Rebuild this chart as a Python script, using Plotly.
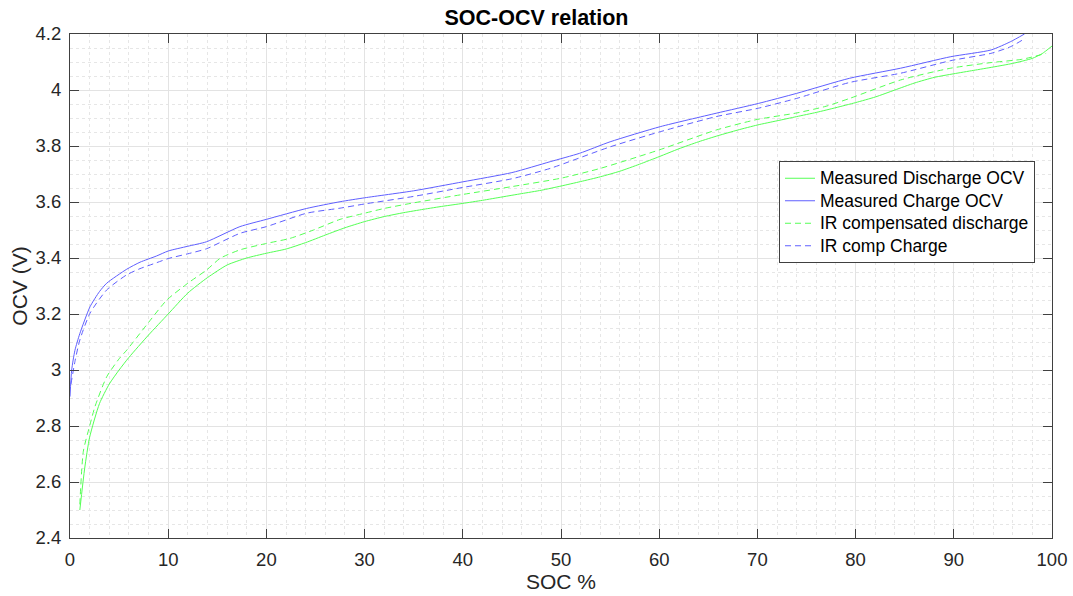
import plotly.graph_objects as go

# ---- data ----
dis_soc = [1.0, 1.5, 2.0, 3.0, 4.0, 5.0, 6.0, 8.0, 10.0, 12.0, 14.0, 16.0, 18.0, 20.0, 22.0, 24.0,
           26.0, 28.0, 30.0, 32.0, 34.0, 36.0, 38.0, 40.0, 42.0, 44.0, 46.0, 48.0, 50.0, 52.0,
           54.0, 56.0, 58.0, 60.0, 62.0, 64.0, 66.0, 68.0, 70.0, 72.0, 74.0, 76.0, 78.0, 80.0,
           82.0, 84.0, 86.0, 88.0, 90.0, 92.0, 94.0, 96.0, 98.0, 99.0, 100.0]
dis_ocv = [2.50, 2.65, 2.76, 2.88, 2.95, 3.00, 3.045, 3.125, 3.20, 3.275, 3.33, 3.375, 3.40, 3.417,
           3.432, 3.455, 3.482, 3.508, 3.530, 3.548, 3.562, 3.574, 3.585, 3.595, 3.606, 3.618,
           3.630, 3.642, 3.657, 3.673, 3.690, 3.710, 3.735, 3.762, 3.790, 3.815, 3.837, 3.857,
           3.875, 3.890, 3.905, 3.920, 3.937, 3.955, 3.975, 4.000, 4.025, 4.045, 4.058, 4.070,
           4.082, 4.095, 4.113, 4.130, 4.157]

irdis_soc = [1.0, 1.36, 2.0, 2.55, 3.74, 5.0, 5.78, 8.0, 9.86, 12.0, 13.9, 15.3, 17.3, 20.0, 22.4,
             24.8, 27.5, 30.0, 32.0, 35.0, 40.0, 45.0, 50.0, 54.0, 60.0, 65.8, 70.0, 74.0, 77.0,
             79.4, 84.6, 89.7, 93.8, 97.0, 99.4]
irdis_ocv = [2.52, 2.71, 2.80, 2.87, 2.976, 3.04, 3.071, 3.17, 3.25, 3.31, 3.357, 3.399, 3.429,
             3.452, 3.470, 3.50, 3.538, 3.56, 3.577, 3.597, 3.627, 3.655, 3.685, 3.72, 3.786,
             3.857, 3.895, 3.918, 3.942, 3.97, 4.036, 4.078, 4.098, 4.11, 4.131]

chg_soc = [0.0, 0.17, 0.5, 1.0, 2.04, 3.0, 3.74, 5.78, 7.13, 8.8, 10.0, 12.0, 13.9, 17.3, 20.0,
           24.1, 27.5, 30.0, 35.0, 40.0, 45.0, 48.9, 51.9, 55.0, 60.1, 65.8, 70.1, 74.0, 79.4,
           84.6, 89.7, 93.8, 95.8, 97.2]
chg_ocv = [2.905, 3.0, 3.07, 3.13, 3.226, 3.28, 3.31, 3.36, 3.385, 3.407, 3.425, 3.442, 3.458,
           3.512, 3.538, 3.577, 3.601, 3.615, 3.64, 3.672, 3.705, 3.744, 3.774, 3.815, 3.869,
           3.917, 3.952, 3.988, 4.042, 4.078, 4.119, 4.143, 4.173, 4.2]

irchg_soc = [0.1, 0.5, 1.0, 2.04, 3.74, 5.78, 7.13, 8.8, 10.0, 12.0, 13.9, 17.3, 20.0, 24.1, 27.5,
             30.0, 35.0, 40.0, 45.0, 48.9, 55.0, 60.1, 65.8, 70.1, 74.0, 79.4, 84.6, 89.7, 93.8,
             95.8, 97.3]
irchg_ocv = [2.95, 3.03, 3.107, 3.203, 3.286, 3.34, 3.362, 3.383, 3.398, 3.415, 3.433, 3.488,
             3.512, 3.56, 3.578, 3.593, 3.62, 3.652, 3.683, 3.72, 3.797, 3.851, 3.905, 3.935,
             3.97, 4.027, 4.06, 4.105, 4.131, 4.155, 4.185]

series_names = ["Measured Discharge OCV", "Measured Charge OCV",
                "IR compensated discharge", "IR comp Charge"]

x_ticks = [0, 10, 20, 30, 40, 50, 60, 70, 80, 90, 100]
y_ticks = [2.4, 2.6, 2.8, 3.0, 3.2, 3.4, 3.6, 3.8, 4.0, 4.2]
y_tick_text = ["2.4", "2.6", "2.8", "3", "3.2", "3.4", "3.6", "3.8", "4", "4.2"]

GREEN = "rgb(85,255,85)"
BLUE = "rgb(95,95,255)"


def legend_name(s):
    # legend text drawn at 17.5px while the row spacing follows the (smaller) legend font
    return "<span style='font-size:17.5px'>" + s + "</span>"


fig = go.Figure()
fig.add_trace(go.Scatter(x=dis_soc, y=dis_ocv, mode="lines", name=legend_name(series_names[0]),
                         line=dict(color=GREEN, width=1, shape="spline", smoothing=0.6)))
fig.add_trace(go.Scatter(x=chg_soc, y=chg_ocv, mode="lines", name=legend_name(series_names[1]),
                         line=dict(color=BLUE, width=1, shape="spline", smoothing=0.6)))
fig.add_trace(go.Scatter(x=irdis_soc, y=irdis_ocv, mode="lines", name=legend_name(series_names[2]),
                         line=dict(color=GREEN, width=1, dash="6px,4px", shape="spline", smoothing=0.6)))
fig.add_trace(go.Scatter(x=irchg_soc, y=irchg_ocv, mode="lines", name=legend_name(series_names[3]),
                         line=dict(color=BLUE, width=1, dash="6px,4px", shape="spline", smoothing=0.6)))

FONT = "Liberation Sans, Arial, Helvetica, sans-serif"
AX = "#404040"
TXT = "#262626"

axis_common = dict(
    showline=True, linecolor=AX, linewidth=1, mirror="ticks",
    ticks="inside", ticklen=9, tickcolor=AX, tickwidth=1,
    showgrid=True, gridcolor="#e3e3e3", gridwidth=1,
    zeroline=False, automargin=False,
    tickfont=dict(family=FONT, size=18.5, color=TXT),
)

fig.update_xaxes(
    range=[0, 100], tickvals=x_ticks, ticklabelstandoff=5,
    title=dict(text="SOC %", font=dict(family=FONT, size=21, color=TXT), standoff=2),
    minor=dict(dtick=2, showgrid=True, gridcolor="#e6e6e6", griddash="dot", ticks=""),
    **axis_common)
fig.update_yaxes(
    range=[2.4, 4.2], tickvals=y_ticks, ticktext=y_tick_text, ticklabelstandoff=4,
    title=dict(text="OCV (V)", font=dict(family=FONT, size=21, color=TXT), standoff=2),
    minor=dict(dtick=0.05, showgrid=True, gridcolor="#e6e6e6", griddash="dot", ticks=""),
    **axis_common)

fig.update_layout(
    width=1073, height=596,
    margin=dict(l=70, r=21, t=34, b=58),
    paper_bgcolor="white", plot_bgcolor="white",
    title=dict(text="<b>SOC-OCV relation</b>", x=0.5, xanchor="center", y=0.9715, yanchor="middle",
               font=dict(family=FONT, size=21.5, color="black")),
    legend=dict(x=0.722, y=0.748, xanchor="left", yanchor="top",
                bgcolor="white", bordercolor=AX, borderwidth=1,
                font=dict(family=FONT, size=15, color="black"),
                tracegroupgap=0, itemwidth=30),
    showlegend=True,
)

fig.write_html("out.html", config={"displayModeBar": False},
               post_script="document.body.style.margin='0px';")
